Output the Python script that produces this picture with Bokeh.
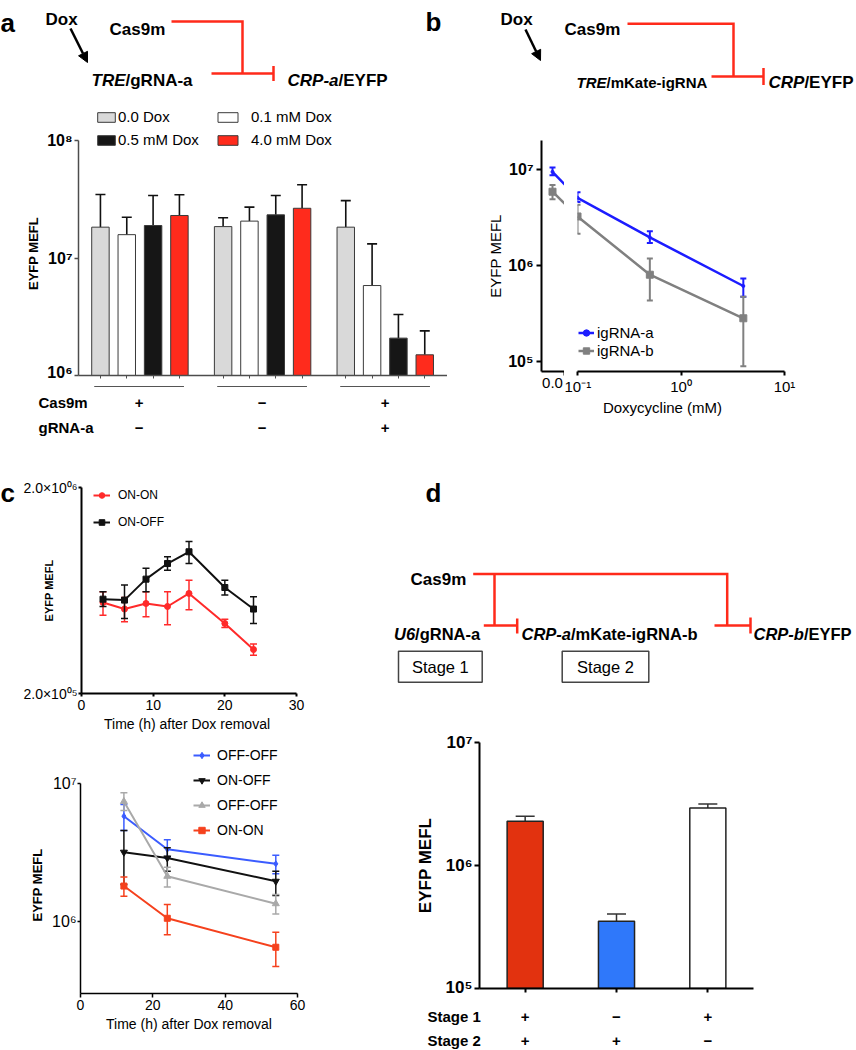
import math
from bokeh.plotting import figure
from bokeh.layouts import row, column
from bokeh.models import (Range1d, FixedTicker, Legend, LegendItem,
                          ColumnDataSource, Arrow, NormalHead)
from bokeh.core.properties import value
from bokeh.embed import file_html
from bokeh.resources import INLINE

FONT = "Liberation Sans"
DIAG_RED = "#ff2a1a"

# ============================ DATA ============================
# --- panel a: EYFP MEFL for three constructs x four Dox doses
A_CAS9M = ["+", "−", "+"]
A_GRNA = ["−", "−", "+"]
A_ROWS = ["Cas9m", "gRNA-a"]
A_DOSES = ["0.0 Dox", "0.1 mM Dox", "0.5 mM Dox", "4.0 mM Dox"]
A_COLORS = ["#d9d9d9", "#ffffff", "#161616", "#ff2b1c"]
A_MEAN_00 = [1.83e7, 1.85e7, 1.83e7]
A_MEAN_01 = [1.58e7, 2.06e7, 5.83e6]
A_MEAN_05 = [1.89e7, 2.33e7, 2.08e6]
A_MEAN_40 = [2.30e7, 2.65e7, 1.50e6]
A_ERR_00 = [3.47e7, 2.20e7, 3.08e7]
A_ERR_01 = [2.22e7, 2.71e7, 1.32e7]
A_ERR_05 = [3.40e7, 3.40e7, 3.30e6]
A_ERR_40 = [3.45e7, 4.20e7, 2.40e6]
A_YTICKS = [1e6, 1e7, 1e8]
A_YLABELS = ["10⁶", "10⁷", "10⁸"]

# --- panel b: dose response (broken log axis, 0.0 shown separately)
B_DOX = [0.0, 0.1, 0.5, 4.0]
B_LABELS = ["igRNA-a", "igRNA-b"]
B_COLORS = ["#1c1cff", "#808080"]
B_IGA_MEAN = [9.46e6, 5.08e6, 1.96e6, 6.1e5]
B_IGA_HI = [1.05e7, 5.78e6, 2.27e6, 7.3e5]
B_IGA_LO = [8.7e6, 4.6e6, 1.71e6, 4.7e5]
B_IGB_MEAN = [5.87e6, 3.24e6, 8.0e5, 2.81e5]
B_IGB_HI = [6.88e6, 4.3e6, 1.18e6, 4.7e5]
B_IGB_LO = [4.9e6, 2.14e6, 4.3e5, 8.9e4]
B_YTICKS = [1e5, 1e6, 1e7]
B_YLABELS = ["10⁵", "10⁶", "10⁷"]
B_XTICKS = [0.1, 1, 10]
B_XLABELS = ["10⁻¹", "10⁰", "10¹"]

# --- panel c (top): time course after Dox removal
C1_T = [3, 6, 9, 12, 15, 20, 24]
C1_LABELS = ["ON-ON", "ON-OFF"]
C1_ONON = [5.53e5, 5.14e5, 5.47e5, 5.29e5, 6.12e5, 4.375e5, 3.27e5]
C1_ONON_HI = [6.24e5, 5.85e5, 6.24e5, 6.24e5, 7.1e5, 4.59e5, 3.48e5]
C1_ONON_LO = [4.8e5, 4.46e5, 4.71e5, 4.31e5, 5.1e5, 4.18e5, 3.07e5]
C1_ONOFF = [5.74e5, 5.68e5, 7.18e5, 8.55e5, 9.75e5, 6.54e5, 5.14e5]
C1_ONOFF_HI = [6.24e5, 6.72e5, 8.12e5, 9.22e5, 1.094e6, 7.1e5, 5.9e5]
C1_ONOFF_LO = [5.29e5, 4.62e5, 6.24e5, 7.94e5, 8.55e5, 6.01e5, 4.375e5]
C1_YTICKS = [2e5, 2e6]
C1_YLABELS = ["2.0×10⁰⁵", "2.0×10⁰⁶"]
C1_XTICKS = [0, 10, 20, 30]

# --- panel c (bottom)
C2_T = [12, 24, 54]
C2_LABELS = ["OFF-OFF", "ON-OFF", "OFF-OFF", "ON-ON"]
C2_S1 = [5.79e6, 3.33e6, 2.61e6]
C2_S1_HI = [7.04e6, 3.9e6, 3.01e6]
C2_S1_LO = [4.56e6, 2.88e6, 2.21e6]
C2_S2 = [3.17e6, 2.88e6, 1.95e6]
C2_S2_HI = [4.56e6, 3.41e6, 2.31e6]
C2_S2_LO = [1.85e6, 2.31e6, 1.54e6]
C2_S3 = [7.4e6, 2.12e6, 1.34e6]
C2_S3_HI = [8.56e6, 2.47e6, 1.56e6]
C2_S3_LO = [6.37e6, 1.77e6, 1.13e6]
C2_S4 = [1.8e6, 1.05e6, 6.47e5]
C2_S4_HI = [2.09e6, 1.32e6, 8.3e5]
C2_S4_LO = [1.52e6, 7.96e5, 4.69e5]
C2_YTICKS = [1e6, 1e7]
C2_YLABELS = ["10⁶", "10⁷"]
C2_XTICKS = [0, 20, 40, 60]

# --- panel d: cascade
D_CONDS = ["stage1+stage2", "stage2", "stage1"]
D_STAGE1 = ["+", "−", "+"]
D_STAGE2 = ["+", "+", "−"]
D_ROWS = ["Stage 1", "Stage 2"]
D_MEAN = [2.29e6, 3.52e5, 2.94e6]
D_ERR = [2.51e6, 4.03e5, 3.16e6]
D_COLORS = ["#e2320f", "#2f78fa", "#ffffff"]
D_YTICKS = [1e5, 1e6, 1e7]
D_YLABELS = ["10⁵", "10⁶", "10⁷"]

# ============================ HELPERS ============================
W_BOLD = {"T": 611, "R": 722, "E": 667, "C": 722, "P": 667, "U": 722, "6": 556,
          "-": 333, "a": 556, "b": 611}


def wbold(s, size):
    return sum(W_BOLD[c] for c in s) * size / 1000.0


def fig(w, h, l=0, r=0, t=0, b=0, **kw):
    p = figure(width=w, height=h, min_border_left=l, min_border_right=r,
               min_border_top=t, min_border_bottom=b, output_backend="svg",
               toolbar_location=None, title=None, **kw)
    p.outline_line_color = None
    p.grid.visible = False
    p.background_fill_color = "white"
    p.border_fill_color = "white"
    return p


def diag(w, h):
    return fig(w, h, x_range=Range1d(0, w), y_range=Range1d(h, 0),
               x_axis_location=None, y_axis_location=None)


def txt(p, x, y, s, size, style="bold", align="left", baseline="alphabetic", color="black"):
    p.text(x=[x], y=[y], text=[s], text_font=value(FONT), text_font_size=f"{size}px",
           text_font_style=style, text_align=align, text_baseline=baseline, text_color=color)


def mixed(p, x, y, it, rest, size):
    txt(p, x, y, it, size, "bold italic")
    txt(p, x + wbold(it, size), y, rest, size, "bold")


def red_path(p, xs, ys, lw=2.5):
    p.line(x=xs, y=ys, line_color=DIAG_RED, line_width=lw, line_join="miter")


def ylab_fig(w, h, x, y_from_top, text, size, bold):
    # narrow strip holding a rotated y title
    p = fig(w, h, x_range=Range1d(0, w), y_range=Range1d(0, h),
            x_axis_location=None, y_axis_location=None)
    p.text(x=[x], y=[h - y_from_top], text=[text], angle=math.pi / 2,
           text_font=value(FONT), text_font_size=f"{size}px",
           text_font_style="bold" if bold else "normal",
           text_align="center", text_baseline="middle", text_color="black")
    return p


def style_axis(ax, color="black", lw=1.5, tick_out=4, size=14, bold=False, standoff=3):
    ax.axis_line_color = color
    ax.axis_line_width = lw
    ax.major_tick_line_color = color
    ax.major_tick_line_width = lw
    ax.major_tick_out = tick_out
    ax.major_tick_in = 0
    ax.minor_tick_line_color = None
    ax.major_label_text_font = FONT
    ax.major_label_text_font_size = f"{size}px"
    ax.major_label_text_font_style = "bold" if bold else "normal"
    ax.major_label_text_color = "black"
    ax.major_label_standoff = standoff
    ax.axis_label_text_font = FONT
    ax.axis_label_text_color = "black"


def minor_only(ax, positions, color, lw, out):
    ax.ticker = FixedTicker(ticks=[], minor_ticks=positions)
    ax.minor_tick_line_color = color
    ax.minor_tick_line_width = lw
    ax.minor_tick_out = out
    ax.minor_tick_in = 0


def axis_label(ax, text, size, bold, standoff):
    ax.axis_label = text
    ax.axis_label_text_font_size = f"{size}px"
    ax.axis_label_text_font_style = "bold" if bold else "normal"
    ax.axis_label_standoff = standoff


def errbars(p, src, x, lo, hi, color, cap, lw, lower_cap=True):
    p.segment(x0=x, y0=lo, x1=x, y1=hi, source=src, line_color=color, line_width=lw)
    p.scatter(x=x, y=hi, source=src, marker="dash", size=cap, line_color=color, line_width=lw)
    if lower_cap:
        p.scatter(x=x, y=lo, source=src, marker="dash", size=cap, line_color=color, line_width=lw)


def make_legend(items, loc, gw, gh, lh, spacing, standoff, size):
    return Legend(items=items, location=loc, glyph_width=gw, glyph_height=gh,
                  label_height=lh, spacing=spacing, label_standoff=standoff,
                  padding=0, margin=0, border_line_color=None, background_fill_alpha=0,
                  label_text_font=FONT, label_text_font_size=f"{size}px",
                  label_text_color="black")


def arrow(p, x0, y0, x1, y1):
    p.add_layout(Arrow(end=NormalHead(size=10, fill_color="black", line_color="black"),
                       x_start=x0, y_start=y0, x_end=x1, y_end=y1,
                       line_width=2.5, line_color="black"))


# ============================ PANEL A ============================
A_W = 447
A_PX = 26.4        # px per bar slot
A_GAP = 0.659      # extra slot gap between groups
A_L = 77
A_YL = 44          # width of the y-title strip


def a_pos(g, j):
    return g * (len(A_DOSES) + A_GAP) + j


a_x0 = -22 / A_PX
a_x1 = a_x0 + (A_W - A_L) / A_PX

a_diag = diag(A_W, 100)
txt(a_diag, 0, 22, "a", 26)
txt(a_diag, 45, 18.5, "Dox", 17)
arrow(a_diag, 70, 28, 87, 62)
txt(a_diag, 109, 29.3, "Cas9m", 17)
red_path(a_diag, [171, 242, 242], [21, 21, 73])
mixed(a_diag, 91, 80, "TRE", "/gRNA-a", 17)
red_path(a_diag, [211, 273], [73, 73])
red_path(a_diag, [273, 273], [65.5, 80.5])
mixed(a_diag, 287, 80, "CRP-a", "/EYFP", 17)
txt(a_diag, 425, 21.7, "b", 26)

a_ylab = ylab_fig(A_YL, 280, 33, 253 - 100, "EYFP MEFL", 13, True)
a_chart = fig(A_W - A_YL, 280, l=A_L - A_YL, r=0, t=5, b=5,
              x_range=Range1d(a_x0, a_x1),
              y_range=Range1d(A_YTICKS[0], 10 ** (6 + 270 / 117.5)), y_axis_type="log")
A_MEANS = [A_MEAN_00, A_MEAN_01, A_MEAN_05, A_MEAN_40]
A_ERRS = [A_ERR_00, A_ERR_01, A_ERR_05, A_ERR_40]
a_rend = []
for j, dose in enumerate(A_DOSES):
    src = ColumnDataSource(dict(x=[a_pos(g, j) for g in range(len(A_CAS9M))],
                                top=A_MEANS[j], err=A_ERRS[j]))
    errbars(a_chart, src, "x", "top", "err", "#111111", 10, 1.6, lower_cap=False)
    r = a_chart.vbar(x="x", top="top", bottom=A_YTICKS[0], width=17.5 / A_PX, source=src,
                     fill_color=A_COLORS[j], line_color="#3a3a3a", line_width=1)
    a_rend.append(r)

ya = a_chart.yaxis[0]
style_axis(ya, color="#4d4d4d", lw=1.5, tick_out=4, size=16, bold=True, standoff=2)
ya.ticker = FixedTicker(ticks=A_YTICKS)
ya.major_label_overrides = dict(zip(A_YTICKS, A_YLABELS))
ya.bounds = (A_YTICKS[0], A_YTICKS[-1])
xa = a_chart.xaxis[0]
style_axis(xa, color="#4d4d4d", lw=1.5, tick_out=3, size=12, standoff=0)
minor_only(xa, [a_pos(g, j) for g in range(len(A_CAS9M)) for j in range(len(A_DOSES))],
           "#4d4d4d", 1, 3)

a_leg1 = make_legend([LegendItem(label=A_DOSES[0], renderers=[a_rend[0]]),
                      LegendItem(label=A_DOSES[2], renderers=[a_rend[2]])],
                     (17, 227), 22, 12, 17, 6, 1, 15)
a_leg2 = make_legend([LegendItem(label=A_DOSES[1], renderers=[a_rend[1]]),
                      LegendItem(label=A_DOSES[3], renderers=[a_rend[3]])],
                     (137, 227), 25, 12, 17, 6, 11, 15)
a_chart.add_layout(a_leg1)
a_chart.add_layout(a_leg2)

a_table = fig(A_W, 75, x_range=Range1d(a_x0 - A_L / A_PX, a_x1), y_range=Range1d(75, 0),
              x_axis_location=None, y_axis_location=None)
for g in range(len(A_CAS9M)):
    xs = [a_pos(g, j) for j in range(len(A_DOSES))]
    cx = sum(xs) / len(xs)
    a_table.line(x=[cx - 1.7, cx + 1.7], y=[6, 6], line_color="#555555", line_width=1)
    txt(a_table, cx, 22, A_CAS9M[g], 15, "bold", "center", "middle")
    txt(a_table, cx, 47, A_GRNA[g], 15, "bold", "center", "middle")
txt(a_table, a_x0 - A_L / A_PX + 38 / A_PX, 22, A_ROWS[0], 15, "bold", "left", "middle")
txt(a_table, a_x0 - A_L / A_PX + 38 / A_PX, 47, A_ROWS[1], 15, "bold", "left", "middle")

# strips are wrapped in their own column so the row does not align their frames
a_col = column(row(a_diag), row(column(a_ylab), a_chart), row(a_table))

# ============================ PANEL B ============================
B_W = 409
b_diag = diag(B_W, 125)
txt(b_diag, 53, 19.3, "Dox", 17)
arrow(b_diag, 78, 29, 93, 60)
txt(b_diag, 117, 29.3, "Cas9m", 17)
red_path(b_diag, [180, 286, 286], [23.3, 23.3, 76])
mixed(b_diag, 129, 81.7, "TRE", "/mKate-igRNA", 15)
red_path(b_diag, [264, 316], [76, 76])
red_path(b_diag, [316, 316], [67.5, 84.5])
mixed(b_diag, 321, 81.7, "CRP", "/EYFP", 17)

B_BREAK_DX = 25   # px between the 0.0 point and the 10^-1 position on the broken axis
b_yr = Range1d(10 ** (5 - 10.3 / 96.7), 10 ** (7 + 29.3 / 96.7))
b_left = fig(117, 272, l=94, r=0, t=15, b=24, x_range=Range1d(-11, 12), y_range=b_yr,
             y_axis_type="log")
b_right = fig(292, 272, l=13, r=72, t=15, b=24, x_range=Range1d(0.1, 10), y_range=b_yr,
              x_axis_type="log", y_axis_type="log", y_axis_location=None)

B_SERIES = [(B_IGA_MEAN, B_IGA_HI, B_IGA_LO, "circle", 3),
            (B_IGB_MEAN, B_IGB_HI, B_IGB_LO, "square", 7)]
b_items = []
for k, (mean, hi, lo, mk, ms) in enumerate(B_SERIES):
    col = B_COLORS[k]
    s0 = ColumnDataSource(dict(x=B_DOX[:1], y=mean[:1], hi=hi[:1], lo=lo[:1]))
    b_left.line(x=[B_DOX[0], B_BREAK_DX], y=[mean[0], mean[1]], line_color=col, line_width=2.5)
    errbars(b_left, s0, "x", "lo", "hi", col, 6, 2)
    b_left.scatter(x="x", y="y", source=s0, marker=mk, size=ms, color=col)
    s1 = ColumnDataSource(dict(x=B_DOX[1:], y=mean[1:], hi=hi[1:], lo=lo[1:]))
    rl = b_right.line(x="x", y="y", source=s1, line_color=col, line_width=2.5)
    errbars(b_right, s1, "x", "lo", "hi", col, 6, 2)
    rm = b_right.scatter(x="x", y="y", source=s1, marker=mk, size=ms, color=col)
    b_items.append(LegendItem(label=B_LABELS[k], renderers=[rl, rm]))
b_right.add_layout(make_legend(b_items, (1, 12), 16, 17, 17, 1, 3, 15))

yb = b_left.yaxis[0]
style_axis(yb, lw=2, tick_out=5, size=16, bold=True, standoff=3)
yb.ticker = FixedTicker(ticks=B_YTICKS)
yb.major_label_overrides = dict(zip(B_YTICKS, B_YLABELS))
axis_label(yb, "EYFP MEFL", 15, False, 1)
xbl = b_left.xaxis[0]
style_axis(xbl, lw=2, tick_out=4, size=15, standoff=2)
xbl.ticker = FixedTicker(ticks=[B_DOX[0]], minor_ticks=[12])
xbl.major_tick_line_color = None
xbl.minor_tick_line_color = "black"
xbl.minor_tick_line_width = 2
xbl.minor_tick_out = 4
xbl.minor_tick_in = 0
xbl.major_label_overrides = {B_DOX[0]: "0.0"}
xbr = b_right.xaxis[0]
style_axis(xbr, lw=2, tick_out=4, size=15, standoff=2)
xbr.ticker = FixedTicker(ticks=B_XTICKS)
xbr.major_label_overrides = dict(zip(B_XTICKS, B_XLABELS))

b_xlab = diag(B_W, 58)
txt(b_xlab, 215, 10, "Doxycycline (mM)", 15, "normal", "center", "middle")

b_col = column(row(b_diag), row(b_left, b_right), row(b_xlab))

# ============================ PANEL C ============================
C_W = 392
C1_LL = 18         # strip holding the panel letter
c_letter = diag(C1_LL, 285)
txt(c_letter, 0, 37, "c", 26)
c_top = fig(C_W - C1_LL, 285, l=81 - C1_LL, r=96, t=32, b=47, x_range=Range1d(0, 30),
            y_range=Range1d(C1_YTICKS[0], C1_YTICKS[-1]), y_axis_type="log")
C1_SERIES = [(C1_ONON, C1_ONON_HI, C1_ONON_LO, "#ff2a2a", "circle", 6),
             (C1_ONOFF, C1_ONOFF_HI, C1_ONOFF_LO, "#111111", "square", 6)]
c1_items = []
for k, (m, hi, lo, col, mk, ms) in enumerate(C1_SERIES):
    src = ColumnDataSource(dict(x=C1_T, y=m, hi=hi, lo=lo))
    rl = c_top.line(x="x", y="y", source=src, line_color=col, line_width=2)
    errbars(c_top, src, "x", "lo", "hi", col, 7, 1.5)
    rm = c_top.scatter(x="x", y="y", source=src, marker=mk, size=ms, color=col)
    c1_items.append(LegendItem(label=C1_LABELS[k], renderers=[rl, rm]))
c_top.add_layout(make_legend(c1_items, (12, 164), 17, 14, 14, 13, 8, 12))
yc1 = c_top.yaxis[0]
style_axis(yc1, lw=2, tick_out=3, size=14, standoff=1)
yc1.ticker = FixedTicker(ticks=C1_YTICKS)
yc1.major_label_overrides = dict(zip(C1_YTICKS, C1_YLABELS))
axis_label(yc1, "EYFP MEFL", 11, True, -35)
xc1 = c_top.xaxis[0]
style_axis(xc1, lw=2, tick_out=3, size=14, standoff=3)
xc1.ticker = FixedTicker(ticks=C1_XTICKS)
axis_label(xc1, "Time (h)  after Dox removal", 14, False, 3)

C2_YL = 47         # width of the y-title strip
c2_y0 = 10 ** (7 - 210 / 137.7)
c_bot_ylab = ylab_fig(C2_YL, 310, 37, 884.5 - 740, "EYFP MEFL", 13, True)
c_bot = fig(C_W - C2_YL, 310, l=80 - C2_YL, r=95, t=5, b=57, x_range=Range1d(0, 60),
            y_range=Range1d(c2_y0, 10 ** (7 + 38 / 137.7)), y_axis_type="log")
C2_SERIES = [(C2_S1, C2_S1_HI, C2_S1_LO, "#3b5cff", "diamond", 6),
             (C2_S2, C2_S2_HI, C2_S2_LO, "#111111", "inverted_triangle", 7),
             (C2_S3, C2_S3_HI, C2_S3_LO, "#a9a9a9", "triangle", 7),
             (C2_S4, C2_S4_HI, C2_S4_LO, "#f5411d", "square", 6)]
c2_items = []
for k, (m, hi, lo, col, mk, ms) in enumerate(C2_SERIES):
    src = ColumnDataSource(dict(x=C2_T, y=m, hi=hi, lo=lo))
    rl = c_bot.line(x="x", y="y", source=src, line_color=col, line_width=2)
    errbars(c_bot, src, "x", "lo", "hi", col, 7, 1.5)
    rm = c_bot.scatter(x="x", y="y", source=src, marker=mk, size=ms, color=col)
    c2_items.append(LegendItem(label=C2_LABELS[k], renderers=[rl, rm]))
c_bot.add_layout(make_legend(c2_items, (113, 155), 17, 16, 16, 9, 7, 14))
yc2 = c_bot.yaxis[0]
style_axis(yc2, lw=1.5, tick_out=3, size=16, standoff=1)
yc2.ticker = FixedTicker(ticks=C2_YTICKS)
yc2.major_label_overrides = dict(zip(C2_YTICKS, C2_YLABELS))
yc2.bounds = (c2_y0, C2_YTICKS[-1])
xc2 = c_bot.xaxis[0]
style_axis(xc2, lw=1.5, tick_out=4, size=14, standoff=2)
xc2.ticker = FixedTicker(ticks=C2_XTICKS)
axis_label(xc2, "Time (h) after Dox removal", 14, False, 3)

c_col = column(row(column(c_letter), c_top), row(column(c_bot_ylab), c_bot))

# ============================ PANEL D ============================
D_W = 464
d_diag = diag(D_W, 240)
txt(d_diag, 33, 37, "d", 26)
txt(d_diag, 18, 124, "Cas9m", 17)
red_path(d_diag, [80.7, 334.7, 334.7], [118.5, 118.5, 170])
red_path(d_diag, [102, 102], [118.5, 170])
mixed(d_diag, 1.5, 178, "U6", "/gRNA-a", 16.5)
red_path(d_diag, [91.3, 124.7], [170, 170])
red_path(d_diag, [124.7, 124.7], [163, 178])
mixed(d_diag, 129, 178, "CRP-a", "/mKate-igRNA-b", 16.5)
red_path(d_diag, [322, 358], [170, 170])
red_path(d_diag, [358, 358], [162, 178])
mixed(d_diag, 361, 178, "CRP-b", "/EYFP", 16.5)
for (x0, x1, lab) in [(6, 89.7, "Stage 1"), (169.7, 256.3, "Stage 2")]:
    d_diag.quad(left=[x0], right=[x1], top=[195.7], bottom=[226.7], fill_color=None,
                line_color="#444444", line_width=1.5)
    txt(d_diag, (x0 + x1) / 2, 211, lab, 16.5, "normal", "center", "middle")

D_L, D_R = 87, 103
D_FW = D_W - D_L - D_R
D_X = [k + 0.5 for k in range(len(D_CONDS))]
d_chart = fig(D_W, 301, l=D_L, r=D_R, t=47, b=8,
              x_range=Range1d(0, len(D_CONDS)),
              y_range=Range1d(D_YTICKS[0], D_YTICKS[-1]), y_axis_type="log")
dsrc = ColumnDataSource(dict(x=D_X, top=D_MEAN, err=D_ERR, c=D_COLORS))
errbars(d_chart, dsrc, "x", "top", "err", "#333333", 19, 1.5, lower_cap=False)
d_chart.vbar(x="x", top="top", bottom=D_YTICKS[0], width=0.395, source=dsrc,
             fill_color="c", line_color="#222222", line_width=1.5)
yd = d_chart.yaxis[0]
style_axis(yd, lw=2, tick_out=5, size=17, bold=True, standoff=2)
yd.ticker = FixedTicker(ticks=D_YTICKS)
yd.major_label_overrides = dict(zip(D_YTICKS, D_YLABELS))
axis_label(yd, "EYFP MEFL", 17, True, 8)
xd = d_chart.xaxis[0]
style_axis(xd, lw=2, tick_out=4, size=12, standoff=0)
minor_only(xd, D_X, "black", 2, 4)

d_table = diag(D_W, 54)
for k in range(len(D_CONDS)):
    cx = D_L + D_X[k] * D_FW / len(D_CONDS)
    txt(d_table, cx, 20, D_STAGE1[k], 15, "bold", "center", "middle")
    txt(d_table, cx, 44, D_STAGE2[k], 15, "bold", "center", "middle")
txt(d_table, 35, 20, D_ROWS[0], 15, "bold", "left", "middle")
txt(d_table, 35, 44, D_ROWS[1], 15, "bold", "left", "middle")

d_col = column(row(d_diag), row(d_chart), row(d_table))

layout = column(row(a_col, b_col), row(c_col, d_col))
open("out.html", "w").write(file_html(layout, INLINE, title="figure"))
